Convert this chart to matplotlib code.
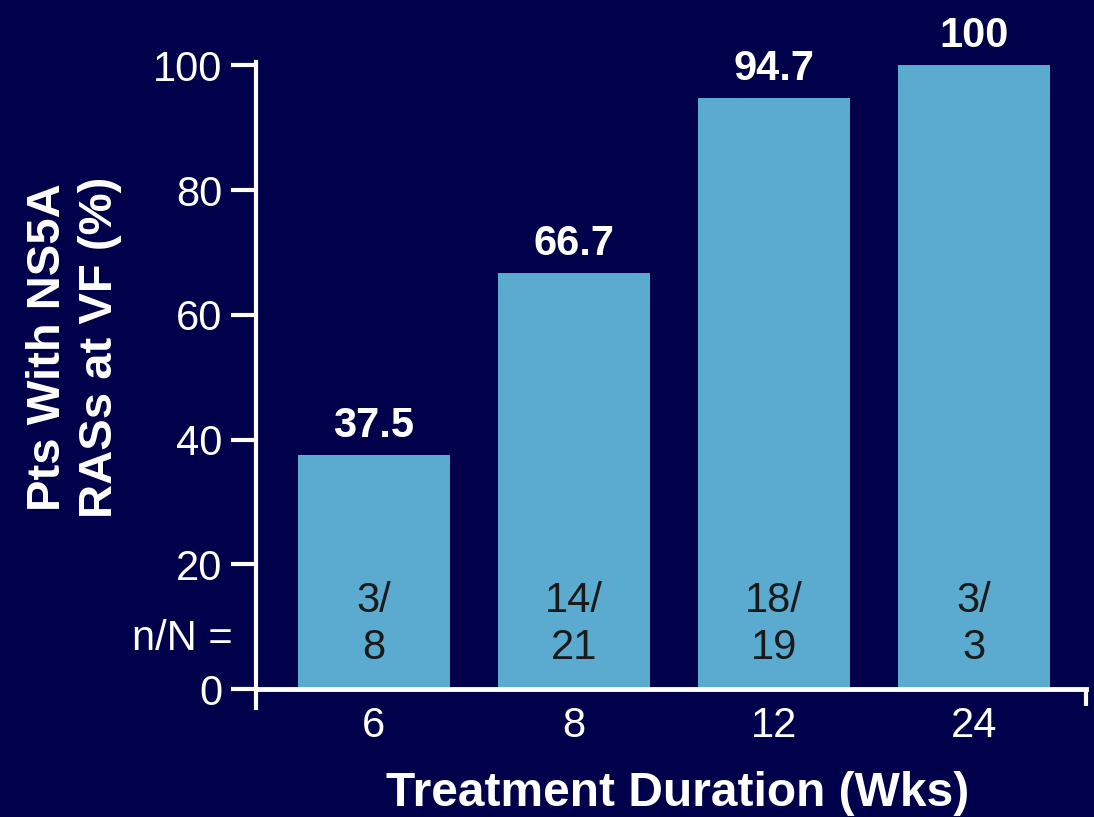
import matplotlib
matplotlib.use("Agg")
import matplotlib.pyplot as plt

categories = ["6", "8", "12", "24"]
values = [37.5, 66.7, 94.7, 100]
value_labels = ["37.5", "66.7", "94.7", "100"]
n_labels = ["3/\n8", "14/\n21", "18/\n19", "3/\n3"]
yticks = [0, 20, 40, 60, 80, 100]

BG = "#00004B"
BAR = "#5BAACF"
WHITE = "white"

plt.rcParams["font.family"] = ["Liberation Sans", "DejaVu Sans"]

W, H = 1094, 817
fig = plt.figure(figsize=(10.94, 8.17), dpi=100, facecolor=BG)
ax = fig.add_axes([0.234, 0.1334, 0.7587, 0.7906], facecolor=BG)

x = list(range(len(categories)))
ax.bar(x, values, width=0.76, color=BAR, zorder=2)

ax.set_xlim(-0.59, 3.56)
ax.set_ylim(-3, 100.5)

for xi, v, lab in zip(x, values, value_labels):
    ax.text(xi, v + 2.9, lab, ha="center", va="baseline", fontsize=30,
            fontweight="bold", color=WHITE)
for xi, lab in zip(x, n_labels):
    ax.text(xi, 10.4, lab, ha="center", va="center", fontsize=30,
            color="#1a1a1a", linespacing=1.22)
ax.text(-0.705, 8.0, "n/N =", ha="right", va="center", fontsize=30,
        color=WHITE, clip_on=False)

ax.set_yticks(yticks)
ax.set_yticklabels([str(t) for t in yticks])
ax.set_xticks(x)
ax.set_xticklabels(categories)
ax.tick_params(axis="y", colors=WHITE, labelsize=30, length=18, width=3,
               direction="out", pad=6)
ax.tick_params(axis="x", colors=WHITE, labelsize=30, length=0, pad=12)

for s in ["top", "right"]:
    ax.spines[s].set_visible(False)
ax.spines["left"].set_color(WHITE)
ax.spines["left"].set_linewidth(3)
ax.spines["bottom"].set_color(WHITE)
ax.spines["bottom"].set_linewidth(3.5)
ax.spines["bottom"].set_position(("data", 0))
ax.spines["bottom"].set_zorder(3)

# right end downward tick of the x axis
ax.plot([1.0, 1.0], [0, -2.6], transform=ax.get_yaxis_transform(which="grid"),
        color=WHITE, lw=3, clip_on=False, zorder=3, solid_capstyle="butt")

fig.text(678 / W, 1 - 793 / H, "Treatment Duration (Wks)", fontsize=34.5,
         fontweight="bold", color=WHITE, ha="center", va="center")
fig.text(74 / W, 1 - 347 / H, "Pts With NS5A\nRASs at VF (%)", fontsize=34,
         fontweight="bold", color=WHITE, ha="center", va="center",
         rotation=90, multialignment="center", linespacing=1.22)

fig.savefig("out.png", dpi=100, facecolor=BG)
